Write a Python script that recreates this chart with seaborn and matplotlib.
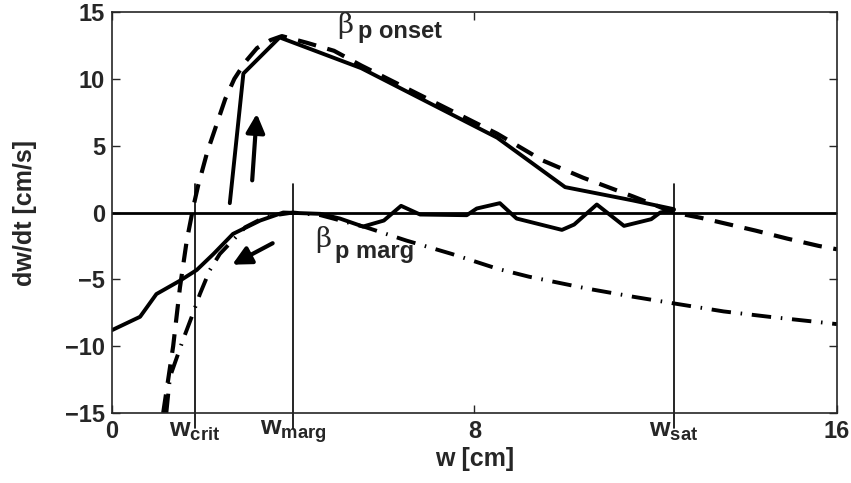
import numpy as np
import pandas as pd
import matplotlib
matplotlib.use("Agg")
import matplotlib.pyplot as plt
import seaborn as sns

# ---------------------------- DATA ----------------------------
# island width w [cm] and growth rate dw/dt [cm/s]

# measured growth at beta_p onset (solid, rising branch)
w_onset_exp = [2.6, 2.9, 3.7, 5.5, 8.5, 10.0, 11.5, 12.4]
dwdt_onset_exp = [0.7, 10.4, 13.1, 10.8, 5.6, 1.9, 0.9, 0.25]

# model curve at beta_p onset (dashed)
w_onset_mod = [1.13, 1.35, 1.5, 1.65, 1.8, 1.9, 2.1, 2.3, 2.5, 2.7, 2.95, 3.2, 3.5,
               3.75, 4.3, 4.9, 5.5, 6.5, 7.5, 8.5, 9.5, 10.4, 11.5, 12.4, 13.0,
               14.2, 14.9, 15.6, 16.0]
dwdt_onset_mod = [-15.0, -10.0, -5.6, -2.1, 0.5, 2.0, 4.5, 6.5, 8.5, 10.0, 11.3, 12.3,
                  12.9, 13.2, 12.7, 12.1, 11.0, 9.3, 7.6, 5.9, 3.9, 2.6, 1.2, 0.0,
                  -0.4, -1.35, -1.95, -2.5, -2.75]

# measured decay at marginal beta_p (solid, falling branch)
w_marg_exp = [0.0, 0.62, 0.98, 1.5, 1.87, 2.24, 2.67, 3.27, 3.78, 4.6, 5.03, 5.54,
              6.0, 6.38, 6.8, 7.83, 8.05, 8.56, 8.93, 9.93, 10.2, 10.7, 11.3, 11.9,
              12.1, 12.4]
dwdt_marg_exp = [-8.8, -7.8, -6.1, -5.1, -4.3, -3.1, -1.6, -0.6, 0.0, -0.1, -0.45,
                 -1.05, -0.6, 0.5, -0.15, -0.2, 0.3, 0.7, -0.45, -1.3, -0.9, 0.6,
                 -1.0, -0.5, 0.0, 0.2]

# model curve at marginal beta_p (dash-dot)
w_marg_mod = [1.2, 1.28, 1.57, 1.76, 1.94, 2.16, 2.38, 2.94, 3.4, 4.0, 4.6, 5.6,
              6.5, 7.5, 8.5, 9.2, 10.5, 11.5, 12.4, 13.5, 14.5, 15.6, 16.0]
dwdt_marg_mod = [-15.0, -12.3, -9.5, -7.8, -6.1, -4.3, -3.1, -1.1, -0.3, 0.0, -0.2,
                 -1.1, -2.1, -3.1, -4.2, -4.8, -5.7, -6.3, -6.8, -7.4, -7.8, -8.2,
                 -8.35]

# characteristic widths
w_crit = 1.83
w_marg = 4.0
w_sat = 12.4
char_widths = [w_crit, w_marg, w_sat]
char_labels = [r"$\mathbf{w_{crit}}$", r"$\mathbf{w_{marg}}$", r"$\mathbf{w_{sat}}$"]

x_ticks = [0, 8, 16]
y_ticks = [-15, -10, -5, 0, 5, 10, 15]

# ---------------------------- STYLE ----------------------------
sns.set_style("ticks")
plt.rcParams["font.family"] = ["Liberation Sans", "DejaVu Sans"]
plt.rcParams["font.weight"] = "bold"
plt.rcParams["mathtext.fontset"] = "custom"
plt.rcParams["mathtext.bf"] = "Liberation Sans:bold"
plt.rcParams["mathtext.rm"] = "Liberation Sans"

fig = plt.figure(figsize=(8.51, 4.83), dpi=100)
ax = fig.add_axes([0.1316, 0.1449, 0.8519, 0.8302])

# ---------------------------- CURVES ----------------------------
sns.lineplot(x=w_onset_mod, y=dwdt_onset_mod, ax=ax, color="black", lw=3.0,
             linestyle=(0, (4.5, 2.8)), sort=False, estimator=None)
sns.lineplot(x=w_marg_mod, y=dwdt_marg_mod, ax=ax, color="black", lw=2.8,
             linestyle=(0, (5, 2.5, 0.4, 2.5)), sort=False, estimator=None)
sns.lineplot(x=w_onset_exp, y=dwdt_onset_exp, ax=ax, color="black", lw=2.8,
             sort=False, estimator=None)
sns.lineplot(x=w_marg_exp, y=dwdt_marg_exp, ax=ax, color="black", lw=2.8,
             sort=False, estimator=None)

ax.axhline(0, color="black", lw=2.0)
for wc in char_widths:
    ax.plot([wc, wc], [-16.1, 2.1], color="black", lw=1.2, clip_on=False)

# direction arrows
ax.annotate("", xy=(3.2, 7.6), xytext=(3.09, 2.2),
            arrowprops=dict(arrowstyle="-|>", lw=3.0, color="black", mutation_scale=28))
ax.annotate("", xy=(2.6, -4.0), xytext=(3.6, -2.2),
            arrowprops=dict(arrowstyle="-|>", lw=3.0, color="black", mutation_scale=28))

# curve labels
ax.text(4.98, 15.0, "\u03b2", fontsize=20, fontweight="normal", va="top",
        family="DejaVu Serif")
ax.text(5.42, 13.06, "p onset", fontsize=17, fontweight="bold", va="baseline")
ax.text(4.48, -1.0, "\u03b2", fontsize=20, fontweight="normal", va="top",
        family="DejaVu Serif")
ax.text(4.92, -3.43, "p marg", fontsize=17, fontweight="bold", va="baseline")

# ---------------------------- AXES ----------------------------
ax.set_xlim(0, 16)
ax.set_ylim(-15, 15)
ax.set_xticks(x_ticks)
ax.set_xticklabels([str(t) for t in x_ticks])
ax.set_xticks(char_widths, minor=True)
ax.set_xticklabels(char_labels, minor=True)
ax.set_yticks(y_ticks)
ax.set_yticklabels([("\u2212" + str(-t)) if t < 0 else str(t) for t in y_ticks])

ax.tick_params(axis="both", which="major", direction="in", top=True, right=True,
               length=6, width=1, labelsize=17, pad=5)
ax.tick_params(axis="x", which="minor", length=0, top=False, labelsize=19, pad=4)
for lbl in ax.get_xticklabels() + ax.get_yticklabels():
    lbl.set_fontweight("bold")
for sp in ax.spines.values():
    sp.set_linewidth(1.2)
    sp.set_visible(True)

ax.set_xlabel("w [cm]", fontsize=18, fontweight="bold")
ax.set_ylabel("dw/dt [cm/s]", fontsize=18, fontweight="bold")
ax.xaxis.set_label_coords(0.5, -0.085)
ax.yaxis.set_label_coords(-0.103, 0.5)

fig.savefig("out.png", dpi=100)
